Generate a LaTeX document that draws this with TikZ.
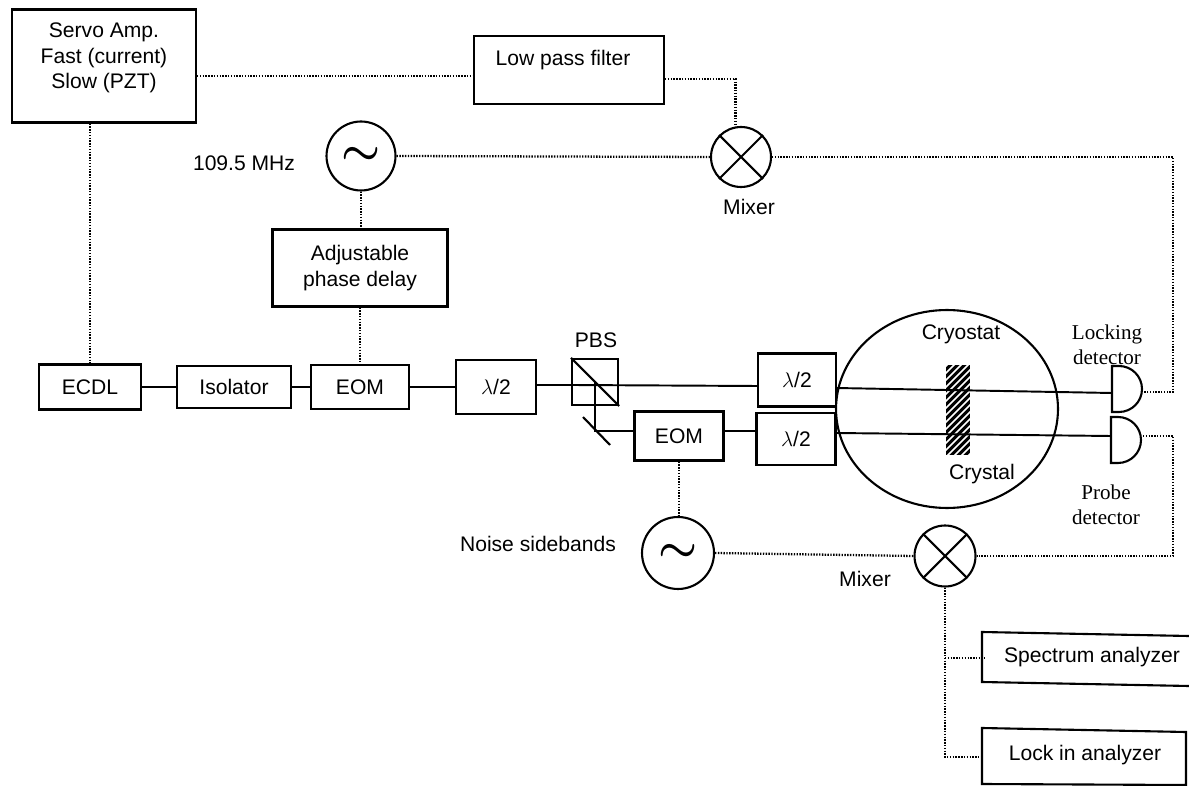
\documentclass[tikz,border=0pt]{standalone}
\usepackage{fontspec}
\setmainfont{Liberation Sans}
\newfontfamily\labelserif{Liberation Serif}
\usetikzlibrary{shapes.geometric}
\tikzset{
  devbox/.style={draw,line width=1.2pt,rectangle,inner sep=0pt,align=center},
  mixerc/.style={draw,line width=1.2pt,circle,inner sep=0pt},
  tilde/.style={font=\boldmath\fontsize{32}{32}\selectfont},
  sig/.style={line width=1.3pt,dash pattern=on .8pt off .8pt},
  beam/.style={line width=1.1pt},
  serifl/.style={align=center,font=\labelserif\fontsize{12}{14.4}\selectfont},
}
\begin{document}
\begin{tikzpicture}[x=.02cm,y=-.02cm,font=\fontsize{12}{14.4}\selectfont]
\useasboundingbox (0,0) rectangle (1189,786);
\node[devbox,minimum width=3.68cm,minimum height=2.26cm] (servo) at (104,66) {};
\node[align=center] (servotext) at (104,58) {Servo Amp.\\Fast (current)\\Slow (PZT)};
\node[devbox,minimum width=3.8cm,minimum height=1.36cm] (lpf) at (569,70) {};
\node (lpftext) at (563,60) {Low pass filter};
\node[mixerc,minimum size=1.2cm] (mix1) at (741,157) {};
\draw[line width=1.2pt] (mix1.north west)--(mix1.south east) (mix1.north east)--(mix1.south west);
\node (mix1text) at (749,207) {Mixer};
\node[mixerc,minimum size=1.38cm,tilde] (osc1) at (361,156) {$\sim$};
\node (rf) at (244,163) {109.5 MHz};
\node[devbox,minimum width=3.5cm,minimum height=1.54cm] (delay) at (360,268) {Adjustable\\phase delay};
\node[devbox,minimum width=2.04cm,minimum height=.9cm] (ecdl) at (90,387) {ECDL};
\node[devbox,minimum width=2.28cm,minimum height=.84cm] (iso) at (234,387) {Isolator};
\node[devbox,minimum width=1.96cm,minimum height=.88cm] (eom1) at (360,387) {EOM};
\node[devbox,minimum width=1.6cm,minimum height=1.08cm] (hwp1) at (496,387) {$\lambda$/2};
\node[devbox,minimum width=.92cm,minimum height=.92cm] (pbs) at (595,382) {};
\draw[line width=1.2pt] (pbs.north west)--(pbs.south east);
\node (pbstext) at (596,340) {PBS};
\node[devbox,minimum width=1.56cm,minimum height=1.06cm] (hwp2) at (797,380) {$\lambda$/2};
\node[devbox,minimum width=1.58cm,minimum height=1.04cm] (hwp3) at (796,439) {$\lambda$/2};
\node[devbox,minimum width=1.78cm,minimum height=.98cm] (eom2) at (679,436) {EOM};
\coordinate (mirror) at (595,431);
\draw[line width=1.2pt] (583,417)--(610,445);
\node[draw,line width=1.2pt,ellipse,inner sep=0pt,minimum width=4.44cm,minimum height=3.96cm] (cryo) at (947,409) {};
\node (cryotext) at (961,334) {Cryostat};
\node[minimum width=.48cm,minimum height=1.8cm,inner sep=0pt] (xtal) at (958,410) {};
\fill[black] (xtal.north west) rectangle (xtal.south east);
\begin{scope}
\clip (xtal.north west) rectangle (xtal.south east);
\foreach \s in {0,7,...,120}
  \draw[white,line width=.9pt] (940,\s+365)--(975,\s+330);
\end{scope}
\node (xtaltext) at (982,474) {Crystal};
% detectors
\draw[line width=1.2pt] (1112,366)--(1119,366) arc[start angle=90,end angle=-90,radius=.46cm]--(1112,412)--cycle;
\draw[line width=1.2pt] (1111,417)--(1118,417) arc[start angle=90,end angle=-90,radius=.46cm]--(1111,463)--cycle;
\coordinate (det1in) at (1112,393);
\coordinate (det1out) at (1143,392);
\coordinate (det2in) at (1111,436);
\coordinate (det2out) at (1143,436);
\coordinate (hwp1out) at (536,385);
\coordinate (pbsin) at (572,385);
\coordinate (hwp2in) at (758,386);
\coordinate (hwp2out) at (836,388);
\coordinate (hwp3out) at (836,433);
\coordinate (eom2in) at (635,431);
\coordinate (eom2out) at (724,431);
\coordinate (hwp3in) at (757,431);
\node[serifl] (locktext) at (1107,345) {Locking\\detector};
\node[serifl] (probetext) at (1106,505) {Probe\\detector};
\node[mixerc,minimum size=1.44cm,tilde] (osc2) at (678,553) {$\sim$};
\node (noise) at (538,544) {Noise sidebands};
\node[mixerc,minimum size=1.22cm] (mix2) at (945,556) {};
\draw[line width=1.2pt] (mix2.north west)--(mix2.south east) (mix2.north east)--(mix2.south west);
\node (mix2text) at (865,579) {Mixer};
% boxes at the right edge
\node[minimum width=4.14cm,minimum height=1cm,inner sep=0pt] (spec) at (1089,658) {};
\draw[line width=1.2pt] (1189,636)--(982,632)--(982,682)--(1189,686);
\node (spectext) at (1092,657) {Spectrum analyzer};
\node[minimum width=4.08cm,minimum height=1.12cm,inner sep=0pt] (lockin) at (1084,757) {};
\draw[line width=1.2pt] (982,728)--(1186,732)--(1186,785)--(982,784)--cycle;
\node (lockintext) at (1085,755) {Lock in analyzer};
% optical path
\draw[beam] (ecdl)--(iso);
\draw[beam] (iso)--(eom1);
\draw[beam] (eom1)--(hwp1);
\draw[beam] (hwp1out)--(pbsin);
\draw[beam] (pbsin)--(hwp2in);
\draw[beam] (hwp2out)--(det1in);
\draw[beam] (pbs.center)--(mirror)--(eom2in);
\draw[beam] (eom2out)--(hwp3in);
\draw[beam] (hwp3out)--(det2in);
% electronics
\draw[sig] ([yshift=-.12cm]lpf.west-|servo.east)--([yshift=-.12cm]lpf.west);
\draw[sig] (servo.south-|ecdl)--(ecdl.north);
\draw[sig] ([yshift=-.18cm]lpf.east)-|(mix1.100);
\draw[sig] (osc1.east)--(mix1.west);
\draw[sig] (osc1.south)--(osc1.south|-delay.north);
\draw[sig] (delay.south-|eom1)--(eom1.north);
\draw[sig] (mix1.east)-|(1173,392)--(det1out);
\draw[sig] (det2out)-|(1173,556)--(mix2.east);
\draw[sig] (eom2.south)--(eom2.south|-osc2.north);
\draw[sig] (osc2.east)--(mix2.west);
\draw[sig] (mix2.south)--(945,757)--(lockin.west);
\draw[sig] (945,658)--(spec.west);
\end{tikzpicture}
\end{document}
